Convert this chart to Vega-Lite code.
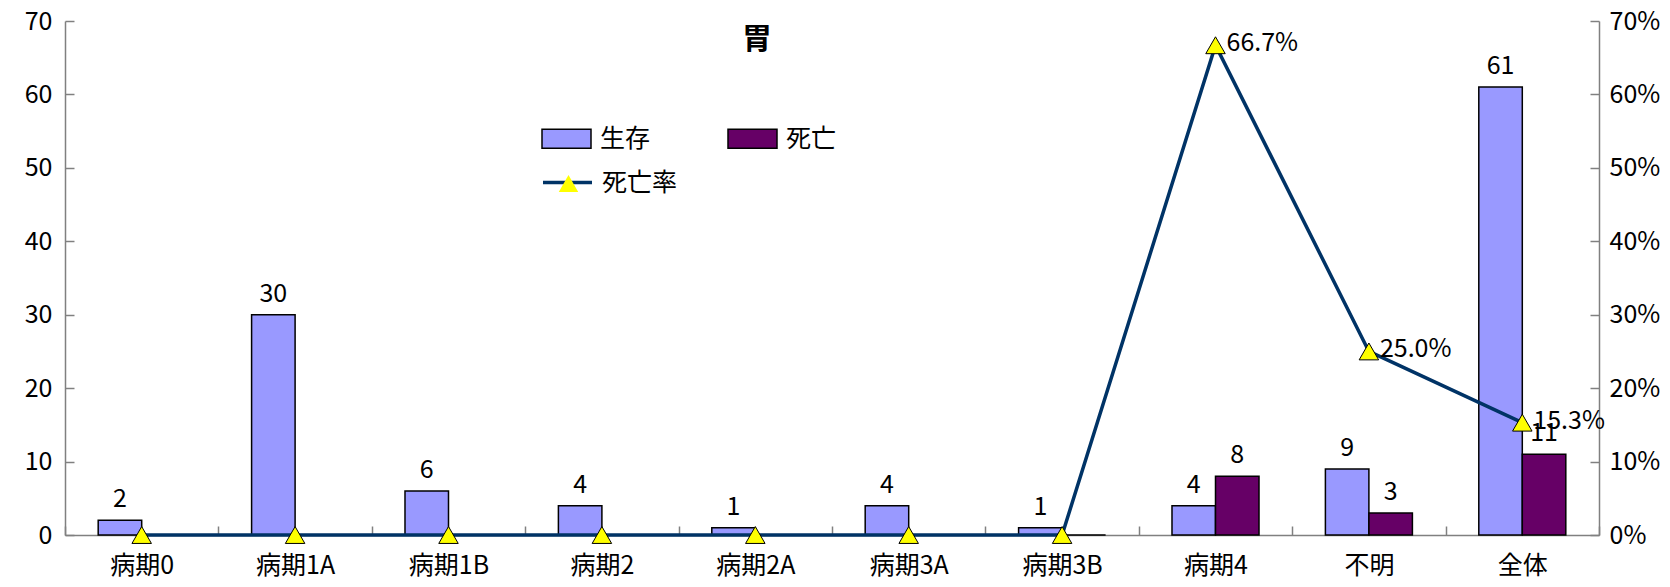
{
  "$schema": "https://vega.github.io/schema/vega-lite/v6.json",
  "width": 1534,
  "height": 514,
  "autosize": {"type": "none"},
  "padding": {"left": 65, "top": 21, "right": 71, "bottom": 52},
  "background": "white",
  "title": {"text": "胃", "fontSize": 30, "fontWeight": "bold", "font": "Noto Sans CJK JP", "anchor": "middle", "frame": "group", "offset": -46, "dx": -75, "color": "black"},
  "config": {
    "view": {"stroke": null},
    "font": "Noto Sans CJK JP, sans-serif",
    "axis": {"labelFont": "Noto Sans CJK JP, sans-serif", "labelFontSize": 25, "labelColor": "black", "domainColor": "#808080", "tickColor": "#808080", "domainWidth": 1.5, "tickWidth": 1.5, "grid": false, "title": null},
    "legend": {"labelFont": "Noto Sans CJK JP", "labelFontSize": 25, "labelColor": "black"},
    "text": {"font": "Noto Sans CJK JP, sans-serif", "fontSize": 25, "color": "black"}
  },
  "datasets": {
    "counts": [
      {"stage": "病期0", "series": "生存", "value": 2},
      {"stage": "病期0", "series": "死亡", "value": 0},
      {"stage": "病期1A", "series": "生存", "value": 30},
      {"stage": "病期1A", "series": "死亡", "value": 0},
      {"stage": "病期1B", "series": "生存", "value": 6},
      {"stage": "病期1B", "series": "死亡", "value": 0},
      {"stage": "病期2", "series": "生存", "value": 4},
      {"stage": "病期2", "series": "死亡", "value": 0},
      {"stage": "病期2A", "series": "生存", "value": 1},
      {"stage": "病期2A", "series": "死亡", "value": 0},
      {"stage": "病期3A", "series": "生存", "value": 4},
      {"stage": "病期3A", "series": "死亡", "value": 0},
      {"stage": "病期3B", "series": "生存", "value": 1},
      {"stage": "病期3B", "series": "死亡", "value": 0},
      {"stage": "病期4", "series": "生存", "value": 4},
      {"stage": "病期4", "series": "死亡", "value": 8},
      {"stage": "不明", "series": "生存", "value": 9},
      {"stage": "不明", "series": "死亡", "value": 3},
      {"stage": "全体", "series": "生存", "value": 61},
      {"stage": "全体", "series": "死亡", "value": 11}
    ],
    "rates": [
      {"stage": "病期0", "series": "死亡率", "rate": 0},
      {"stage": "病期1A", "series": "死亡率", "rate": 0},
      {"stage": "病期1B", "series": "死亡率", "rate": 0},
      {"stage": "病期2", "series": "死亡率", "rate": 0},
      {"stage": "病期2A", "series": "死亡率", "rate": 0},
      {"stage": "病期3A", "series": "死亡率", "rate": 0},
      {"stage": "病期3B", "series": "死亡率", "rate": 0},
      {"stage": "病期4", "series": "死亡率", "rate": 0.667},
      {"stage": "不明", "series": "死亡率", "rate": 0.25},
      {"stage": "全体", "series": "死亡率", "rate": 0.153}
    ]
  },
  "layer": [
    {
      "data": {"name": "counts"},
      "encoding": {
        "x": {"field": "stage", "type": "nominal", "sort": null, "scale": {"paddingInner": 0, "paddingOuter": 0},
              "axis": {"labelAngle": 0, "tickBand": "extent", "tickSize": -9, "labelPadding": 27}},
        "xOffset": {"field": "series", "type": "nominal", "sort": ["生存", "死亡"], "scale": {"domain": ["生存", "死亡"], "paddingInner": 0, "paddingOuter": 0.763}},
        "y": {"field": "value", "type": "quantitative", "scale": {"domain": [0, 70], "nice": false},
              "axis": {"values": [0, 10, 20, 30, 40, 50, 60, 70], "tickSize": -9, "labelPadding": 22}}
      },
      "layer": [
        {
          "mark": {"type": "bar", "stroke": "black", "strokeWidth": 1.5},
          "encoding": {
            "fill": {"field": "series", "type": "nominal", "sort": ["生存", "死亡"],
                     "scale": {"domain": ["生存", "死亡"], "range": ["#9999FF", "#660066"]},
                     "legend": {"title": null, "orient": "none", "legendX": 476, "legendY": 92, "columns": 2, "columnPadding": 74,
                                "symbolType": "M-1,-0.39H1V0.39H-1Z", "symbolSize": 2401, "symbolStrokeColor": "black", "symbolStrokeWidth": 1.5, "symbolOpacity": 1, "labelOffset": 8}}
          }
        },
        {
          "transform": [{"filter": "datum.value > 0"}],
          "mark": {"type": "text", "baseline": "bottom", "dy": -8},
          "encoding": {"text": {"field": "value", "type": "quantitative"}}
        }
      ]
    },
    {
      "data": {"name": "rates"},
      "encoding": {
        "x": {"field": "stage", "type": "nominal", "sort": null, "scale": {"paddingInner": 0, "paddingOuter": 0},
              "axis": {"labelAngle": 0, "tickBand": "extent", "tickSize": -9, "labelPadding": 27}},
        "y": {"field": "rate", "type": "quantitative", "scale": {"domain": [0, 0.7], "nice": false},
              "axis": {"orient": "right", "format": "0%", "values": [0, 0.1, 0.2, 0.3, 0.4, 0.5, 0.6, 0.7], "tickSize": -9, "labelPadding": 19}}
      },
      "layer": [
        {
          "mark": {"type": "line", "strokeWidth": 3.5},
          "encoding": {
            "stroke": {"field": "series", "type": "nominal", "scale": {"range": ["#003366"]},
                       "legend": {"title": null, "orient": "none", "legendX": 476, "legendY": 135, "symbolType": "stroke", "symbolSize": 2401, "symbolStrokeWidth": 3.5, "labelOffset": 8}}
          }
        },
        {
          "mark": {"type": "point", "filled": true, "fill": "#FFFF00", "stroke": "black", "strokeWidth": 1, "size": 380, "opacity": 1},
          "encoding": {
            "shape": {"field": "series", "type": "nominal", "scale": {"range": ["triangle-up"]},
                      "legend": {"title": null, "orient": "none", "legendX": 491, "legendY": 150, "symbolSize": 380, "symbolFillColor": "#FFFF00", "symbolStrokeColor": "black", "symbolStrokeWidth": 1, "symbolOpacity": 1, "labelExpr": "''", "labelOffset": 0}}
          }
        },
        {
          "transform": [{"filter": "datum.rate > 0"}],
          "mark": {"type": "text", "align": "left", "baseline": "middle", "dx": 11, "dy": -2},
          "encoding": {"text": {"field": "rate", "type": "quantitative", "format": ".1%"}}
        }
      ]
    }
  ],
  "resolve": {"scale": {"y": "independent"}, "axis": {"y": "independent"}}
}
